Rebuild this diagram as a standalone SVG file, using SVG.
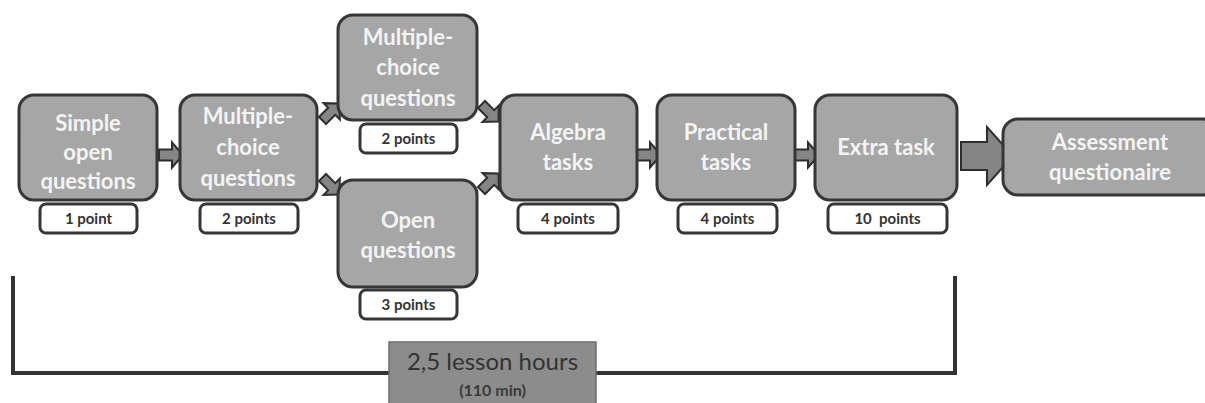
<svg xmlns="http://www.w3.org/2000/svg" width="1205" height="403" viewBox="0 0 1205 403">
  <defs>
    <style>
      .box { fill: #a6a6a6; stroke: #363636; stroke-width: 3; }
      .lbl { fill: #ffffff; stroke: #363636; stroke-width: 3; }
      .bt { font-family: Lato, "Liberation Sans", sans-serif; font-weight: bold; font-size: 22px; fill: #f4f4f4; text-anchor: middle; }
      .lt { font-family: Lato, "Liberation Sans", sans-serif; font-weight: bold; font-size: 15px; fill: #333333; text-anchor: middle; }
      .arr { fill: #858585; stroke: #2e2e2e; stroke-width: 2; stroke-linejoin: miter; }
      .bracket { fill: none; stroke: #333333; stroke-width: 4; }
    </style>
    <path id="sa" d="M-12,-5.5 H1 V-12.5 L12,0 L1,12.5 V5.5 H-12 Z"/>
    <path id="da" d="M-12,-5 H1 V-11.5 L12,0 L1,11.5 V5 H-12 Z"/>
  </defs>

  <g id="bracket">
    <path class="bracket" d="M13,276 V373 H955 V276"/>
  </g>

  <g id="connectors">
    <use href="#sa" class="arr" transform="translate(171,155)"/>
    <use href="#da" class="arr" transform="translate(331,112) rotate(-45)"/>
    <use href="#da" class="arr" transform="translate(331,186) rotate(45)"/>
    <use href="#da" class="arr" transform="translate(490,113) rotate(45)"/>
    <use href="#da" class="arr" transform="translate(490,182) rotate(-45)"/>
    <use href="#sa" class="arr" transform="translate(649,155)"/>
    <use href="#sa" class="arr" transform="translate(807,155)"/>
    <path class="arr" stroke-width="3" d="M961,142 H987 V127 L1013,156 L987,185 V170 H961 Z"/>
  </g>

  <g id="node-simple-open">
    <rect class="lbl" x="40" y="204" width="97" height="29" rx="6"/>
    <text class="lt" x="88.5" y="224">1 point</text>
    <rect class="box" x="19" y="95" width="138" height="105" rx="15"/>
    <text class="bt" x="88" y="131">Simple</text>
    <text class="bt" x="88" y="160">open</text>
    <text class="bt" x="88" y="189">questions</text>
  </g>

  <g id="node-mc1">
    <rect class="lbl" x="200" y="204" width="98" height="29" rx="6"/>
    <text class="lt" x="249" y="224">2 points</text>
    <rect class="box" x="180" y="95" width="137" height="105" rx="15"/>
    <text class="bt" x="248" y="124">Multiple-</text>
    <text class="bt" x="248" y="155">choice</text>
    <text class="bt" x="248" y="186">questions</text>
  </g>

  <g id="node-mc2">
    <rect class="lbl" x="360" y="124" width="97" height="29" rx="6"/>
    <text class="lt" x="408.5" y="144">2 points</text>
    <rect class="box" x="338" y="15" width="139" height="105" rx="15"/>
    <text class="bt" x="408" y="45">Multiple-</text>
    <text class="bt" x="408" y="75">choice</text>
    <text class="bt" x="408" y="106">questions</text>
  </g>

  <g id="node-open">
    <rect class="lbl" x="360" y="290" width="97" height="29" rx="6"/>
    <text class="lt" x="408.5" y="310">3 points</text>
    <rect class="box" x="338" y="180" width="139" height="107" rx="15"/>
    <text class="bt" x="408" y="228">Open</text>
    <text class="bt" x="408" y="258">questions</text>
  </g>

  <g id="node-algebra">
    <rect class="lbl" x="518" y="204" width="100" height="29" rx="6"/>
    <text class="lt" x="568" y="224">4 points</text>
    <rect class="box" x="500" y="95" width="137" height="105" rx="15"/>
    <text class="bt" x="568" y="140">Algebra</text>
    <text class="bt" x="568" y="170">tasks</text>
  </g>

  <g id="node-practical">
    <rect class="lbl" x="678" y="204" width="99" height="29" rx="6"/>
    <text class="lt" x="727.5" y="224">4 points</text>
    <rect class="box" x="657" y="95" width="138" height="105" rx="15"/>
    <text class="bt" x="726" y="140">Practical</text>
    <text class="bt" x="726" y="170">tasks</text>
  </g>

  <g id="node-extra">
    <rect class="lbl" x="828" y="204" width="119" height="29" rx="6"/>
    <text class="lt" x="887.5" y="224" xml:space="preserve">10  points</text>
    <rect class="box" x="815" y="95" width="142" height="105" rx="15"/>
    <text class="bt" x="886" y="155">Extra task</text>
  </g>

  <g id="node-assessment">
    <rect class="box" x="1003" y="119" width="215" height="76" rx="15"/>
    <text class="bt" x="1110" y="150">Assessment</text>
    <text class="bt" x="1110" y="180">questionaire</text>
  </g>

  <g id="node-time">
    <rect x="389" y="342" width="207" height="70" fill="#8c8c8c" stroke="#6e6e6e" stroke-width="1.5"/>
    <text x="492.5" y="370" font-family="Lato, 'Liberation Sans', sans-serif" font-size="24" fill="#333333" text-anchor="middle">2,5 lesson hours</text>
    <text x="492.5" y="396" font-family="Lato, 'Liberation Sans', sans-serif" font-size="16" font-weight="bold" fill="#3a3a3a" text-anchor="middle">(110 min)</text>
  </g>
</svg>
